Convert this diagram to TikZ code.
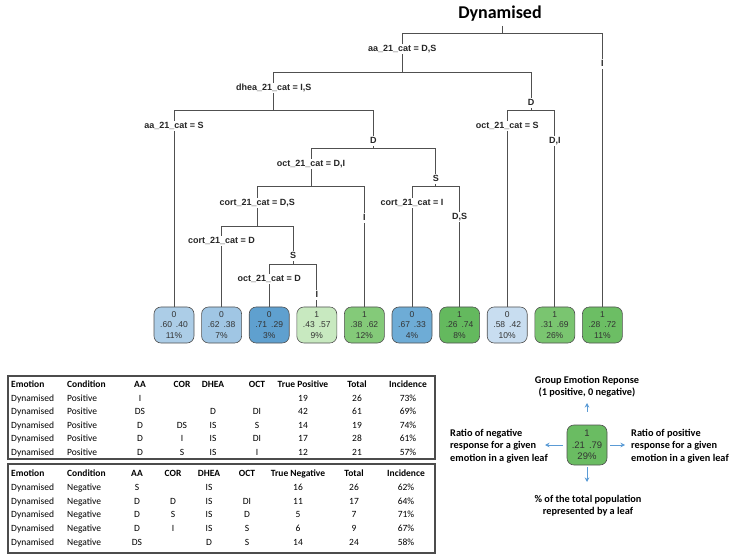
\documentclass[tikz,border=0pt]{standalone}
\usepackage{fontspec}
\setmainfont{Carlito}
\newfontfamily\plotfont{Liberation Sans}
\usetikzlibrary{arrows.meta}

\definecolor{linegray}{RGB}{80,80,80}
\definecolor{arrowblue}{RGB}{91,155,213}
\definecolor{blueA}{RGB}{172,205,231}
\definecolor{blueB}{RGB}{160,198,228}
\definecolor{blueC}{RGB}{95,160,207}
\definecolor{blueD}{RGB}{110,172,214}
\definecolor{blueE}{RGB}{200,221,240}
\definecolor{greenA}{RGB}{200,233,192}
\definecolor{greenB}{RGB}{132,202,121}
\definecolor{greenC}{RGB}{122,197,112}
\definecolor{greenD}{RGB}{108,190,100}
\definecolor{greenE}{RGB}{100,185,94}
\definecolor{greenK}{RGB}{106,188,98}

\begin{document}
\begin{tikzpicture}[x=1pt, y=-1pt,
  leaf/.style={rectangle, draw=linegray, line width=0.6pt, rounded corners=7pt,
               minimum width=40pt, minimum height=36pt, inner sep=0pt, align=center,
               text=black!80, font=\plotfont\fontsize{8.5}{10.5}\selectfont},
  splitlbl/.style={fill=white, inner sep=1pt, text height=6.8pt, text depth=1.8pt,
                   text=black!85, font=\plotfont\bfseries\fontsize{9}{10}\selectfont},
  branch/.style={draw=linegray, line width=0.7pt},
  cell/.style={anchor=base, inner sep=0pt, font=\fontsize{9.5}{11}\selectfont},
  hdr/.style={cell, font=\bfseries\fontsize{9.5}{11}\selectfont},
  tbl/.style={draw=black!70, line width=1.2pt},
  note/.style={inner sep=1pt, font=\bfseries\fontsize{10.3}{12.5}\selectfont},
  arr/.style={draw=arrowblue, line width=0.9pt, -{Stealth[length=4.5pt, width=4.5pt]}},
]
  \useasboundingbox (0,0) rectangle (732,559);

  \node[font=\bfseries\fontsize{18}{20}\selectfont] (title) at (500,14) {Dynamised};

  % leaves
  \node[leaf, fill=blueA]  (l1)  at (174,325)   {0\\.60\hspace{4pt}.40\\11\%};
  \node[leaf, fill=blueB]  (l2)  at (221.6,325) {0\\.62\hspace{4pt}.38\\7\%};
  \node[leaf, fill=blueC]  (l3)  at (269.2,325) {0\\.71\hspace{4pt}.29\\3\%};
  \node[leaf, fill=greenA] (l4)  at (316.8,325) {1\\.43\hspace{4pt}.57\\9\%};
  \node[leaf, fill=greenB] (l5)  at (364.4,325) {1\\.38\hspace{4pt}.62\\12\%};
  \node[leaf, fill=blueD]  (l6)  at (412,325)   {0\\.67\hspace{4pt}.33\\4\%};
  \node[leaf, fill=greenE] (l7)  at (459.6,325) {1\\.26\hspace{4pt}.74\\8\%};
  \node[leaf, fill=blueE]  (l8)  at (507.2,325) {0\\.58\hspace{4pt}.42\\10\%};
  \node[leaf, fill=greenC] (l9)  at (554.8,325) {1\\.31\hspace{4pt}.69\\26\%};
  \node[leaf, fill=greenD] (l10) at (602.4,325) {1\\.28\hspace{4pt}.72\\11\%};

  % split points
  \coordinate (top) at (502.4,26);
  \coordinate (j0) at (502.4,33);
  \coordinate (j1) at (402.3,72);
  \coordinate (j2) at (273.7,110);
  \coordinate (j3) at (531,110);
  \coordinate (j4) at (373.3,148);
  \coordinate (j5) at (310.9,186);
  \coordinate (j6) at (435.8,186);
  \coordinate (j7) at (257.3,226);
  \coordinate (j8) at (293,264);

  \draw[branch] (top) -- (j0);
  \draw[branch] (j0) -| (j1);
  \draw[branch] (j0) -| (l10);
  \draw[branch] (j1) -| (j2);
  \draw[branch] (j1) -| (j3);
  \draw[branch] (j3) -| (l8);
  \draw[branch] (j3) -| (l9);
  \draw[branch] (j2) -| (l1);
  \draw[branch] (j2) -| (j4);
  \draw[branch] (j4) -| (j5);
  \draw[branch] (j4) -| (j6);
  \draw[branch] (j5) -| (j7);
  \draw[branch] (j5) -| (l5);
  \draw[branch] (j6) -| (l6);
  \draw[branch] (j6) -| (l7);
  \draw[branch] (j7) -| (l2);
  \draw[branch] (j7) -| (j8);
  \draw[branch] (j8) -| (l3);
  \draw[branch] (j8) -| (l4);

  \node[splitlbl] (s0)  at (402.3,49)  {aa\_21\_cat = D,S};
  \node[splitlbl] (s0r) at (602.4,64)  {I};
  \node[splitlbl] (s1)  at (273.7,88)  {dhea\_21\_cat = I,S};
  \node[splitlbl] (s1r) at (531,103)   {D};
  \node[splitlbl] (s3)  at (507.2,126) {oct\_21\_cat = S};
  \node[splitlbl] (s3r) at (554.8,141) {D,I};
  \node[splitlbl] (s2)  at (174,126)   {aa\_21\_cat = S};
  \node[splitlbl] (s2r) at (373.3,141) {D};
  \node[splitlbl] (s4)  at (310.9,164) {oct\_21\_cat = D,I};
  \node[splitlbl] (s4r) at (435.8,179) {S};
  \node[splitlbl] (s5)  at (257.3,203) {cort\_21\_cat = D,S};
  \node[splitlbl] (s5r) at (364.4,218) {I};
  \node[splitlbl] (s6)  at (412,203)   {cort\_21\_cat = I};
  \node[splitlbl] (s6r) at (459.6,217) {D,S};
  \node[splitlbl] (s7)  at (221.6,241) {cort\_21\_cat = D};
  \node[splitlbl] (s7r) at (293,256)   {S};
  \node[splitlbl] (s8)  at (269.2,279) {oct\_21\_cat = D};
  \node[splitlbl] (s8r) at (316.8,295) {I};

  % tables
  \draw[tbl] (8,376) rectangle (435,459);
  \draw[tbl] (8,464) rectangle (435,553);

  \node[hdr, anchor=base west] (ph1) at (11,387.5) {Emotion};
  \node[hdr, anchor=base west] (ph2) at (67,387.5) {Condition};
  \foreach \txt/\x [count=\c from 3] in {AA/140, COR/182, DHEA/213, OCT/257,
      True Positive/303, Total/357, Incidence/408}
    \node[hdr] (ph\c) at (\x,387.5) {\txt};
  \foreach \aa/\cor/\dhea/\oct/\tp/\tot/\inc [count=\r] in {
      I/{}/{}/{}/19/26/73\%, DS/{}/D/DI/42/61/69\%, D/DS/IS/S/14/19/74\%,
      D/I/IS/DI/17/28/61\%, D/S/IS/I/12/21/57\%} {
    \node[cell, anchor=base west] (pe\r) at (11,{387.5+13.6*\r}) {Dynamised};
    \node[cell, anchor=base west] (pc\r) at (67,{387.5+13.6*\r}) {Positive};
    \node[cell] (pa\r)   at (140,{387.5+13.6*\r}) {\aa};
    \node[cell] (pco\r)  at (182,{387.5+13.6*\r}) {\cor};
    \node[cell] (pd\r)   at (213,{387.5+13.6*\r}) {\dhea};
    \node[cell] (po\r)   at (257,{387.5+13.6*\r}) {\oct};
    \node[cell] (ptp\r)  at (303,{387.5+13.6*\r}) {\tp};
    \node[cell] (ptot\r) at (357,{387.5+13.6*\r}) {\tot};
    \node[cell] (pinc\r) at (408,{387.5+13.6*\r}) {\inc};
  }

  \node[hdr, anchor=base west] (nh1) at (11,476.5) {Emotion};
  \node[hdr, anchor=base west] (nh2) at (67,476.5) {Condition};
  \foreach \txt/\x [count=\c from 3] in {AA/137, COR/173, DHEA/209, OCT/247,
      True Negative/298, Total/354, Incidence/406}
    \node[hdr] (nh\c) at (\x,476.5) {\txt};
  \foreach \aa/\cor/\dhea/\oct/\tn/\tot/\inc [count=\r] in {
      S/{}/IS/{}/16/26/62\%, D/D/IS/DI/11/17/64\%, D/S/IS/D/5/7/71\%,
      D/I/IS/S/6/9/67\%, DS/{}/D/S/14/24/58\%} {
    \node[cell, anchor=base west] (ne\r) at (11,{476.5+13.8*\r}) {Dynamised};
    \node[cell, anchor=base west] (nc\r) at (67,{476.5+13.8*\r}) {Negative};
    \node[cell] (na\r)   at (137,{476.5+13.8*\r}) {\aa};
    \node[cell] (nco\r)  at (173,{476.5+13.8*\r}) {\cor};
    \node[cell] (nd\r)   at (209,{476.5+13.8*\r}) {\dhea};
    \node[cell] (no\r)   at (247,{476.5+13.8*\r}) {\oct};
    \node[cell] (ntn\r)  at (298,{476.5+13.8*\r}) {\tn};
    \node[cell] (ntot\r) at (354,{476.5+13.8*\r}) {\tot};
    \node[cell] (ninc\r) at (406,{476.5+13.8*\r}) {\inc};
  }

  % legend
  \node[leaf, fill=greenK, minimum height=40pt, font=\plotfont\fontsize{9.5}{11.5}\selectfont]
    (key) at (587,445) {1\\.21\hspace{4pt}.79\\29\%};
  \node[note, align=center] (grp) at (587,387) {Group Emotion Reponse\\(1 positive, 0 negative)};
  \node[note, align=left, anchor=west] (neg) at (449,446) {Ratio of negative\\response for a given\\emotion in a given leaf};
  \node[note, align=left, anchor=west] (posr) at (630,446) {Ratio of positive\\response for a given\\emotion in a given leaf};
  \node[note, align=center] (pct) at (588,505.5) {\% of the total population\\represented by a leaf};

  \coordinate (uptip) at (587,403);
  \coordinate (downtip) at (587,482);
  \coordinate (negtip) at (545,445);
  \coordinate (postip) at (625,445);
  \draw[arr, shorten <=13pt] (key.north) -- (uptip);
  \draw[arr, shorten <=2pt] (key.south) -- (downtip);
  \draw[arr, shorten <=4pt] (key.west) -- (negtip);
  \draw[arr, shorten <=3pt] (key.east) -- (postip);
\end{tikzpicture}
\end{document}
